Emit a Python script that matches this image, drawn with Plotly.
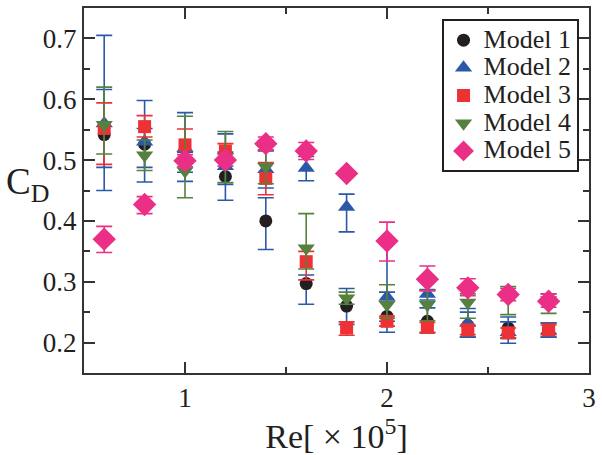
import plotly.graph_objects as go

re = [0.6, 0.8, 1.0, 1.2, 1.4, 1.6, 1.8, 2.0, 2.2, 2.4, 2.6, 2.8]

m1 = [0.542, 0.526, 0.500, 0.473, 0.400, 0.297, 0.260, 0.243, 0.235, 0.228, 0.224, 0.222]
m1_up = [0.074, 0.026, 0.013, 0.040, 0.038, 0.014, 0.029, 0.040, 0.022, 0.022, 0.018, 0.010]
m1_dn = [0.054, 0.038, 0.020, 0.039, 0.047, 0.034, 0.030, 0.026, 0.019, 0.019, 0.017, 0.013]

m2 = [0.560, 0.530, 0.520, 0.490, 0.485, 0.487, 0.423, 0.275, 0.280, 0.232, 0.217, 0.220]
m2_up = [0.145, 0.068, 0.058, 0.053, 0.030, 0.019, 0.021, 0.087, 0.007, 0.024, 0.017, 0.012]
m2_dn = [0.110, 0.066, 0.055, 0.030, 0.031, 0.021, 0.041, 0.040, 0.010, 0.023, 0.018, 0.011]

m3 = [0.552, 0.555, 0.525, 0.515, 0.470, 0.333, 0.224, 0.235, 0.225, 0.221, 0.216, 0.221]
m3_up = [0.042, 0.018, 0.026, 0.012, 0.026, 0.017, 0.010, 0.008, 0.008, 0.008, 0.008, 0.008]
m3_dn = [0.059, 0.017, 0.025, 0.012, 0.027, 0.030, 0.012, 0.008, 0.008, 0.008, 0.008, 0.008]

m4 = [0.558, 0.508, 0.482, 0.505, 0.489, 0.355, 0.273, 0.262, 0.262, 0.266, 0.278, 0.270]
m4_up = [0.062, 0.025, 0.090, 0.042, 0.028, 0.057, 0.010, 0.033, 0.024, 0.014, 0.014, 0.010]
m4_dn = [0.048, 0.025, 0.044, 0.042, 0.028, 0.034, 0.010, 0.022, 0.026, 0.026, 0.032, 0.022]

m5 = [0.370, 0.427, 0.499, 0.500, 0.527, 0.515, 0.478, 0.367, 0.304, 0.290, 0.279, 0.268]
m5_up = [0.021, 0.013, 0.010, 0.010, 0.011, 0.014, 0.004, 0.031, 0.022, 0.015, 0.010, 0.012]
m5_dn = [0.022, 0.015, 0.010, 0.010, 0.011, 0.014, 0.004, 0.033, 0.019, 0.013, 0.010, 0.010]

names = ["Model 1", "Model 2", "Model 3", "Model 4", "Model 5"]
x_ticks = [1, 2, 3]
y_ticks = [0.2, 0.3, 0.4, 0.5, 0.6, 0.7]

BLACK = "#231f20"
BLUE = "#2b59a8"
RED = "#ee3134"
GREEN = "#55803e"
PINK = "#ec2f86"
AX = "#333333"

series = [
    (m1, m1_up, m1_dn, "circle", 13, BLACK, BLUE),
    (m2, m2_up, m2_dn, "triangle-up", 15, BLUE, BLUE),
    (m3, m3_up, m3_dn, "square", 13, RED, RED),
    (m4, m4_up, m4_dn, "triangle-down", 15, GREEN, GREEN),
    (m5, m5_up, m5_dn, "diamond", 18, PINK, PINK),
]

FONT = "Liberation Serif"

fig = go.Figure()
for name, (y, up, dn, sym, size, col, ecol) in zip(names, series):
    fig.add_trace(go.Scatter(
        x=re, y=y, mode="markers",
        name="<span style='font-size:26px'>" + name + "</span>",
        marker=dict(symbol=sym, size=size, color=col, line=dict(width=0)),
        error_y=dict(type="data", symmetric=False, array=up, arrayminus=dn,
                     color=ecol, thickness=1.6, width=8),
    ))

axis_common = dict(
    showline=True, linecolor=AX, linewidth=2, mirror="ticks",
    ticks="inside", ticklen=11, tickwidth=2, tickcolor=AX,
    showgrid=False, zeroline=False,
    tickfont=dict(family=FONT, size=27, color=BLACK),
)

fig.update_layout(
    width=602, height=455,
    margin=dict(l=84, r=6, t=7, b=82),
    paper_bgcolor="white", plot_bgcolor="white",
    font=dict(family=FONT, color=BLACK),
    showlegend=True,
    legend=dict(
        x=0.708, y=0.969, xanchor="left", yanchor="top",
        bgcolor="white", bordercolor=BLACK, borderwidth=2,
        font=dict(family=FONT, size=19, color=BLACK),
        itemwidth=30, tracegroupgap=0,
    ),
    xaxis=dict(
        range=[0.5, 3.0], tickvals=x_ticks, ticktext=[str(v) for v in x_ticks],
        minor=dict(tickvals=[1.5, 2.5], ticks="inside", ticklen=6, tickwidth=2, tickcolor=AX),
        title=dict(text="Re[ \u00d7 10<sup>5</sup>]", font=dict(family=FONT, size=34, color=BLACK), standoff=6),
        **axis_common,
    ),
    yaxis=dict(
        range=[0.15, 0.75], tickvals=y_ticks, ticktext=["%.1f" % v for v in y_ticks],
        minor=dict(tickvals=[0.25, 0.35, 0.45, 0.55, 0.65], ticks="inside", ticklen=6, tickwidth=2, tickcolor=AX),
        **axis_common,
    ),
    annotations=[dict(
        text="C<sub>D</sub>", xref="paper", yref="paper", x=-0.112, y=0.516,
        xanchor="center", yanchor="middle", showarrow=False,
        font=dict(family=FONT, size=37, color=BLACK),
    )],
)

fig.write_html("out.html")
